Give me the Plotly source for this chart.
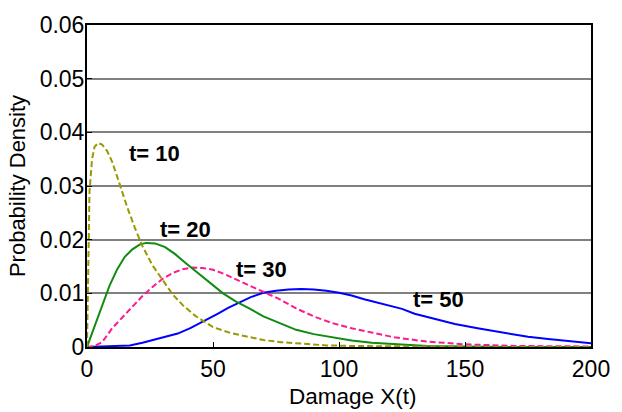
import plotly.graph_objects as go

t10_x = [0, 0.5, 1, 2, 3, 4.4, 6, 8, 10, 13, 16, 19, 22, 26, 30, 34, 38, 43, 50, 57, 64, 70, 77, 85, 95, 105, 120, 140, 170, 200]
t10_y = [0, 0.018, 0.029, 0.035, 0.0373, 0.038, 0.0377, 0.0365, 0.0345, 0.0303, 0.026, 0.0222, 0.0188, 0.0152, 0.0125, 0.0098, 0.0078, 0.0058, 0.0037, 0.0026, 0.0019, 0.0013, 0.0009, 0.0006, 0.0003, 0.0002, 0.0001, 0.00005, 0, 0]

t20_x = [0, 2, 4, 6, 9, 12, 15, 18, 21, 23.5, 27, 31, 35, 39, 44, 49, 54, 59, 64, 70, 76, 83, 90, 97, 105, 113, 122, 135, 150, 170, 200]
t20_y = [0, 0.0025, 0.005, 0.0075, 0.0115, 0.0145, 0.0168, 0.0182, 0.0191, 0.0194, 0.0193, 0.0186, 0.0173, 0.0157, 0.0138, 0.0118, 0.0100, 0.0085, 0.0073, 0.0057, 0.0045, 0.0032, 0.0024, 0.0018, 0.0012, 0.0008, 0.0005, 0.0002, 0.0001, 0, 0]

t30_x = [0, 3, 6, 10, 14, 18, 22, 26, 30, 34, 38, 42, 46, 50, 55, 60, 65, 70, 76, 83, 90, 97, 105, 113, 122, 135, 150, 170, 200]
t30_y = [0, 0.0002, 0.0009, 0.0035, 0.0055, 0.0075, 0.0095, 0.0112, 0.0127, 0.0138, 0.0145, 0.0148, 0.0147, 0.0144, 0.0135, 0.0124, 0.0113, 0.0103, 0.0090, 0.0072, 0.0057, 0.0045, 0.0035, 0.0027, 0.0018, 0.0010, 0.0005, 0.0002, 0.0001]

t50_x = [0, 10, 17, 22, 26, 31, 36, 41, 47, 52, 56, 61, 65, 70, 75, 80, 85, 90, 95, 100, 105, 110, 115, 120, 125, 130, 138, 146, 155, 165, 175, 183, 191, 196, 200]
t50_y = [0, 0.0001, 0.0003, 0.0008, 0.0013, 0.0019, 0.0025, 0.0035, 0.0049, 0.0062, 0.0073, 0.0084, 0.0093, 0.0101, 0.0105, 0.0107, 0.0108, 0.0107, 0.0105, 0.0101, 0.0096, 0.0089, 0.0083, 0.0077, 0.0071, 0.0062, 0.0052, 0.0043, 0.0035, 0.0027, 0.0019, 0.0015, 0.0011, 0.0008, 0.0007]

labels = ["t= 10", "t= 20", "t= 30", "t= 50"]
label_x = [26.7, 39.2, 69.4, 139.6]
label_y = [0.0360, 0.0219, 0.0145, 0.0089]

x_ticks = [0, 50, 100, 150, 200]
y_ticks = [0, 0.01, 0.02, 0.03, 0.04, 0.05, 0.06]
y_tick_text = ["0", "0.01", "0.02", "0.03", "0.04", "0.05", "0.06"]

FAM = "Liberation Sans, Arial"

fig = go.Figure()
# darker gridline at 0.02 as in the reference
fig.add_shape(type="line", xref="paper", x0=0, x1=1, yref="y", y0=y_ticks[2], y1=y_ticks[2],
              line=dict(color="black", width=1.5), layer="below")
fig.add_trace(go.Scatter(x=t50_x, y=t50_y, mode="lines", line=dict(color="#0000FF", width=2), showlegend=False))
fig.add_trace(go.Scatter(x=t30_x, y=t30_y, mode="lines", line=dict(color="#FF1A8C", width=2, dash="6px,3px"), showlegend=False))
fig.add_trace(go.Scatter(x=t20_x, y=t20_y, mode="lines", line=dict(color="#108A10", width=2), showlegend=False))
fig.add_trace(go.Scatter(x=t10_x, y=t10_y, mode="lines", line=dict(color="#999900", width=2, dash="6px,3px"), showlegend=False))

for txt, xx, yy in zip(labels, label_x, label_y):
    fig.add_annotation(x=xx, y=yy, text="<b>" + txt + "</b>", showarrow=False,
                       font=dict(family=FAM, size=22, color="black"))

# x-axis title (slightly right of centre, as in the reference)
fig.add_annotation(xref="paper", yref="paper", x=0.527, y=-0.153, xanchor="center", yanchor="middle",
                   text="Damage X(t)", showarrow=False,
                   font=dict(family=FAM, size=22.5, color="black"))

fig.update_layout(
    width=622, height=412,
    margin=dict(l=87, r=23, t=15, b=65),
    plot_bgcolor="white", paper_bgcolor="white",
    font=dict(family=FAM, size=22, color="black"),
    xaxis=dict(range=[0, 200], tickvals=x_ticks, showgrid=False, zeroline=False,
               showline=True, linecolor="black", linewidth=2, mirror=True,
               ticks="inside", ticklen=5, tickcolor="black",
               tickfont=dict(size=23)),
    yaxis=dict(range=[0, 0.06], tickvals=y_ticks, ticktext=y_tick_text,
               showgrid=True, gridcolor="#808080", gridwidth=1.5, zeroline=False,
               showline=True, linecolor="black", linewidth=2, mirror=True,
               ticks="inside", ticklen=5, tickcolor="black",
               ticklabelstandoff=-4,
               title=dict(text="Probability Density", font=dict(size=22), standoff=8),
               tickfont=dict(size=23)),
)

fig.write_html("out.html")
